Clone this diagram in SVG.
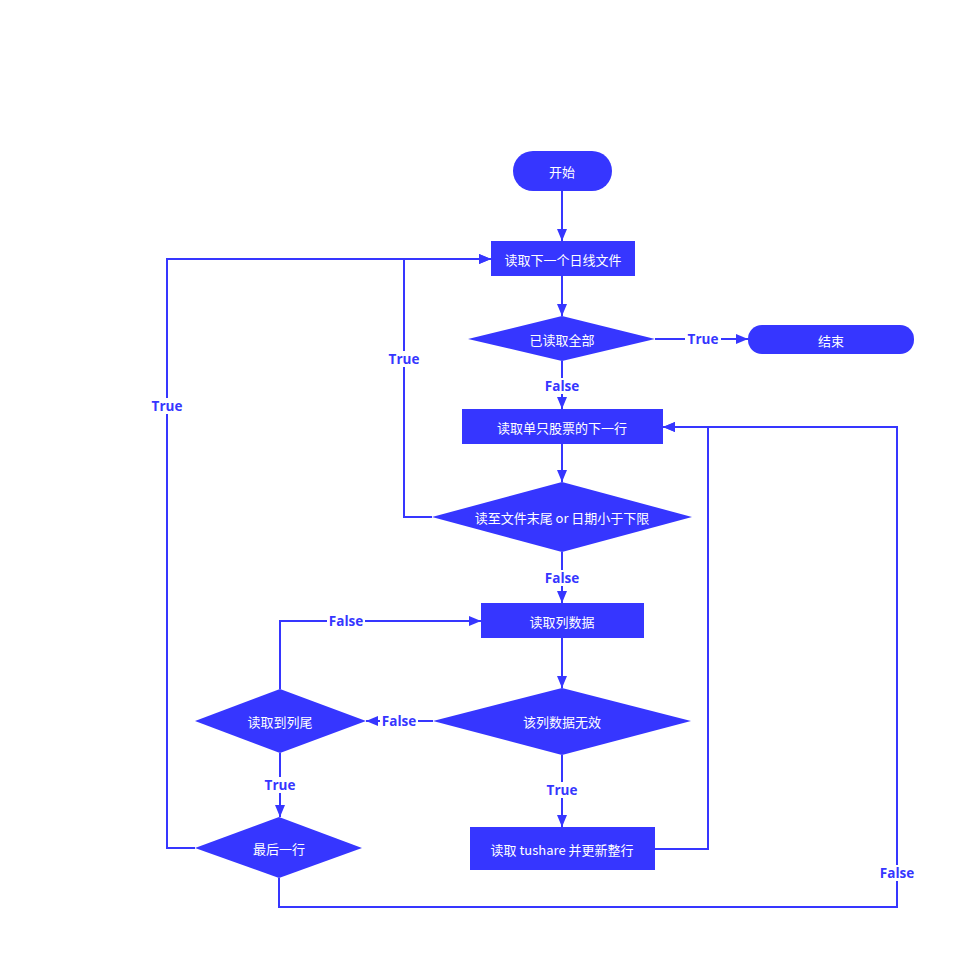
<svg xmlns="http://www.w3.org/2000/svg" width="977" height="968" viewBox="0 0 977 968">
<defs>
<marker id="ah" viewBox="0 0 12 10" refX="12" refY="5" markerWidth="12" markerHeight="10" markerUnits="userSpaceOnUse" orient="auto">
<path d="M0,0 L12,5 L0,10 z" fill="#3636ff"/>
</marker>
<style>
.n{fill:#3636ff;}
.t{fill:#ffffff;font-family:"Noto Sans CJK SC","Open Sans",sans-serif;font-size:13px;text-anchor:middle;dominant-baseline:central;}
.c{fill:none;stroke:#3636ff;stroke-width:2;}
.lb{fill:#3636ff;font-family:"Open Sans","Noto Sans CJK SC",sans-serif;font-size:13.5px;font-weight:bold;text-anchor:middle;dominant-baseline:central;}
.bg{fill:#ffffff;}
</style>
</defs>
<rect width="977" height="968" fill="#ffffff"/>
<g id="connectors">
<path class="c" d="M562,191 V241" marker-end="url(#ah)"/>
<path class="c" d="M562,276 V316" marker-end="url(#ah)"/>
<path class="c" d="M655,339 H748" marker-end="url(#ah)"/>
<path class="c" d="M562,361 V409" marker-end="url(#ah)"/>
<path class="c" d="M562,444 V482" marker-end="url(#ah)"/>
<path class="c" d="M432,517 H404 V259 H491" marker-end="url(#ah)"/>
<path class="c" d="M562,552 V603" marker-end="url(#ah)"/>
<path class="c" d="M562,638 V688" marker-end="url(#ah)"/>
<path class="c" d="M433,721 H366" marker-end="url(#ah)"/>
<path class="c" d="M280,689 V621 H481" marker-end="url(#ah)"/>
<path class="c" d="M280,753 V817" marker-end="url(#ah)"/>
<path class="c" d="M562,755 V827" marker-end="url(#ah)"/>
<path class="c" d="M655,849 H708 V427 H663" marker-end="url(#ah)"/>
<path class="c" d="M195,848 H167 V259 H491" marker-end="url(#ah)"/>
<path class="c" d="M279,878 V907 H897 V427 H663" marker-end="url(#ah)"/>
<rect class="bg" x="685" y="331" width="36" height="16"/><text class="lb" x="703" y="339">True</text>
<rect class="bg" x="543" y="378" width="38" height="16"/><text class="lb" x="562" y="386">False</text>
<rect class="bg" x="386" y="351" width="36" height="16"/><text class="lb" x="404" y="359">True</text>
<rect class="bg" x="543" y="570" width="38" height="16"/><text class="lb" x="562" y="578">False</text>
<rect class="bg" x="380" y="713" width="38" height="16"/><text class="lb" x="399" y="721">False</text>
<rect class="bg" x="327" y="613" width="38" height="16"/><text class="lb" x="346" y="621">False</text>
<rect class="bg" x="262" y="777" width="36" height="16"/><text class="lb" x="280" y="785">True</text>
<rect class="bg" x="544" y="782" width="36" height="16"/><text class="lb" x="562" y="790">True</text>
<rect class="bg" x="149" y="398" width="36" height="16"/><text class="lb" x="167" y="406">True</text>
<rect class="bg" x="878" y="865" width="38" height="16"/><text class="lb" x="897" y="873">False</text>
</g>
<g id="start"><rect class="n" x="513" y="151" width="99" height="40" rx="20"/><text class="t" x="562" y="171">开始</text></g>
<g id="readFile"><rect class="n" x="491" y="241" width="144" height="35"/><text class="t" x="563" y="259">读取下一个日线文件</text></g>
<g id="allRead"><polygon class="n" points="468,339 562,316 655,339 562,361"/><text class="t" x="562" y="339">已读取全部</text></g>
<g id="end"><rect class="n" x="748" y="325" width="166" height="29" rx="14"/><text class="t" x="831" y="340">结束</text></g>
<g id="readRow"><rect class="n" x="462" y="409" width="201" height="35"/><text class="t" x="562" y="427">读取单只股票的下一行</text></g>
<g id="eofCheck"><polygon class="n" points="432,517 562,482 692,517 562,552"/><text class="t" x="562" y="517">读至文件末尾 or 日期小于下限</text></g>
<g id="readCol"><rect class="n" x="481" y="603" width="163" height="35"/><text class="t" x="562" y="621">读取列数据</text></g>
<g id="invalidCol"><polygon class="n" points="433,721 562,688 691,721 562,755"/><text class="t" x="562" y="721">该列数据无效</text></g>
<g id="colEnd"><polygon class="n" points="195,721 280,689 366,721 280,753"/><text class="t" x="280" y="721">读取到列尾</text></g>
<g id="lastRow"><polygon class="n" points="195,848 279,817 362,848 279,878"/><text class="t" x="279" y="848">最后一行</text></g>
<g id="tushare"><rect class="n" x="470" y="827" width="185" height="43"/><text class="t" x="562" y="849">读取 tushare 并更新整行</text></g>
</svg>
